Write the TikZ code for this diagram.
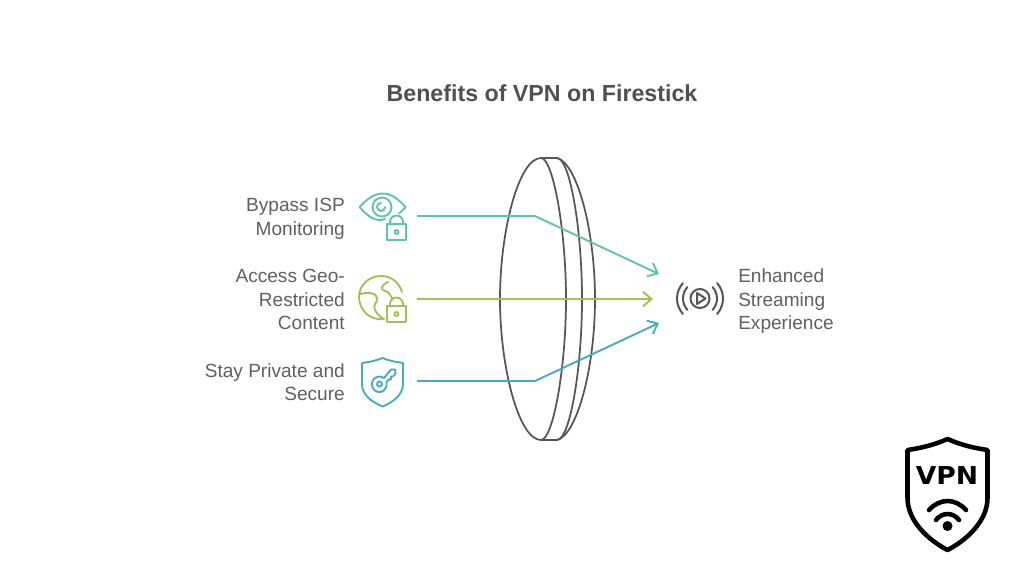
\documentclass[tikz,border=0pt]{standalone}
\usepackage{fontspec}
\setmainfont{Liberation Sans}
\newfontfamily\vpnfont{DejaVu Sans}
\usetikzlibrary{arrows.meta}
\definecolor{txt}{HTML}{5F6060}
\definecolor{titlec}{HTML}{4F5050}
\definecolor{lens}{HTML}{555555}
\definecolor{teal}{HTML}{5FC3A5}
\definecolor{olive}{HTML}{A8BC5A}
\definecolor{bluec}{HTML}{47A9C2}
\tikzset{
  lbl/.style={font=\fontsize{14.3pt}{17.6pt}\selectfont,text=txt,inner sep=0pt},
  lensline/.style={draw=lens,line width=1.3pt},
  conn/.style={line width=1.4pt,-{Straight Barb[length=6.5pt,width=11pt,line width=1.4pt]},rounded corners=0.5pt},
  ico/.style={line width=1.4pt,line cap=round,line join=round},
}
\begin{document}
\begin{tikzpicture}[x=0.75pt,y=-0.75pt]
\useasboundingbox (0,0) rectangle (1024,576);
\fill[white] (0,0) rectangle (1024,576);
% title
\node[font=\bfseries\fontsize{17.4pt}{20pt}\selectfont,text=titlec,inner sep=0pt] (title) at (542,93) {Benefits of VPN on Firestick};
% lens
\draw[lensline] (541,158) .. controls (519,158) and (500,230) .. (500,299) .. controls (500,368) and (519,440) .. (541,440)
  .. controls (553,440) and (566,368) .. (566,299) .. controls (566,230) and (553,158) .. (541,158) -- cycle;
\draw[lensline] (541,158) -- (557,158) .. controls (570,158) and (582,230) .. (582,299) .. controls (582,368) and (570,440) .. (557,440) -- (541,440);
\draw[lensline] (557,158) .. controls (577,163) and (595,230) .. (595,299) .. controls (595,368) and (577,435) .. (557,440);
% connector ends
\coordinate (s1) at (417,216); \coordinate (b1) at (535,216); \coordinate (e1) at (659,274);
\coordinate (s2) at (417,299); \coordinate (e2) at (653,299);
\coordinate (s3) at (417,381); \coordinate (b3) at (535,381); \coordinate (e3) at (659,323);
\draw[conn,teal] (s1) -- (b1) -- (e1);
\draw[conn,olive] (s2) -- (e2);
\draw[conn,bluec] (s3) -- (b3) -- (e3);
% labels
\node[lbl,align=right,anchor=east] (l1) at (345,219) {Bypass ISP\\Monitoring};
\node[lbl,align=right,anchor=east] (l2) at (345,299.5) {Access Geo-\\Restricted\\Content};
\node[lbl,align=right,anchor=east] (l3) at (345,382) {Stay Private and\\Secure};
\node[lbl,align=left,anchor=west] (r1) at (738,301.5) {Enhanced\\Streaming\\Experience};
% eye icon
\begin{scope}[ico,draw=teal]
\draw (385,219) .. controls (374,223) and (366,214) .. (359.5,207) .. controls (367,199) and (374,193.5) .. (383,193.5) .. controls (392,193.5) and (399,200) .. (405.5,207) .. controls (403,210) and (401,212) .. (399,213.5);
\draw (382,207) circle (9.5);
\draw (385,207) arc (0:270:4);
\draw (387,224) rectangle (406,240);
\draw (390,224) -- (390,222) arc (180:360:6.5) -- (403,224);
\draw (396.5,232) circle (2);
\end{scope}
% globe icon
\begin{scope}[ico,draw=olive]
\draw (384,319) .. controls (369,321) and (359,309) .. (359,297) .. controls (359,285) and (369,276) .. (381,276) .. controls (391,276) and (399,282) .. (402,292);
\draw (360,294) .. controls (368,292) and (376,292) .. (377,298) .. controls (378,303) and (372,304) .. (375,310) .. controls (377,314) and (380,317) .. (384,319);
\draw (388,282) .. controls (381,285) and (380,290) .. (385,291) .. controls (390,292) and (390,296) .. (392,298);
\draw (387,306) rectangle (406,322);
\draw (390,306) -- (390,304) arc (180:360:6.5) -- (403,306);
\draw (396.5,314) circle (2);
\end{scope}
% shield icon
\begin{scope}[ico,draw=bluec]
\draw (382.5,358) .. controls (375,361) and (369,362) .. (362,363) -- (362,384) .. controls (362,395) and (372,402) .. (382.5,406.5) .. controls (393,402) and (403,395) .. (403,384) -- (403,363) .. controls (396,362) and (390,361) .. (382.5,358) -- cycle;
\draw (379.5,384) circle (2.5);
\draw (384,378) .. controls (380,375) and (375,377) .. (373,380) .. controls (370,385) and (373,391) .. (378,392) .. controls (383,393) and (388,388) .. (386.5,382) -- (389,379.5) -- (391,379.5) -- (391,376.5) -- (393,376.5) -- (395.5,373.5) -- (395,369.5) -- (391,369.5) -- cycle;
\end{scope}
% play icon
\begin{scope}[line width=1.5pt,line cap=round,line join=round,draw=lens]
\coordinate (pc) at (700,298.5);
\draw (pc) circle (9.5);
\draw (697,293) -- (705.5,298.5) -- (697,304) -- cycle;
\draw (pc) ++(-42:17) arc (-42:42:17);
\draw (pc) ++(138:17) arc (138:222:17);
\draw (pc) ++(-42:23) arc (-42:42:23);
\draw (pc) ++(138:23) arc (138:222:23);
\end{scope}
% VPN badge
\draw[black,line width=3.4pt,line join=round] (947.5,439) .. controls (934,445) and (921,448) .. (907.5,450) -- (907.5,498) .. controls (907.5,522) and (930,541) .. (947.5,550) .. controls (965,541) and (987.5,522) .. (987.5,498) -- (987.5,450) .. controls (974,448) and (961,445) .. (947.5,439) -- cycle;
\node[font=\vpnfont\bfseries\fontsize{18.5pt}{20pt}\selectfont,text=black,inner sep=0pt,xscale=1.08] (vpn) at (947,475.5) {VPN};
\fill[black] (947.5,526) circle (5);
\draw[black,line width=3.4pt,line cap=round] (929,510) .. controls (940,498) and (955,498) .. (966,510);
\draw[black,line width=3.4pt,line cap=round] (936,520) .. controls (942,512) and (953,512) .. (959,520);
\end{tikzpicture}
\end{document}
